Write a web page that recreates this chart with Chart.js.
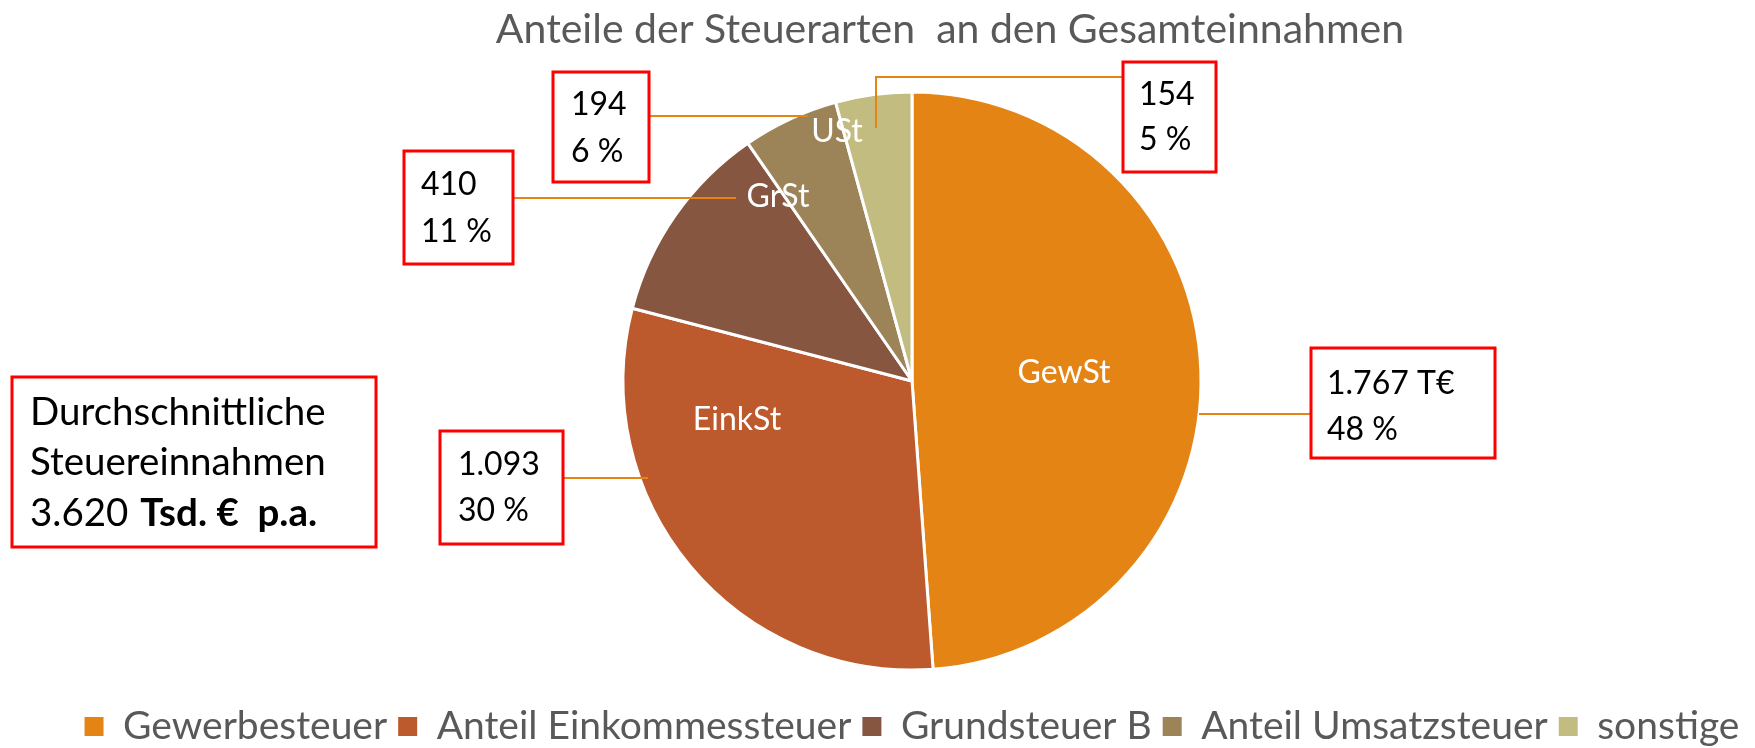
<!DOCTYPE html>
<html lang="de">
<head>
<meta charset="utf-8">
<title>Anteile der Steuerarten an den Gesamteinnahmen</title>
<script src="https://cdn.jsdelivr.net/npm/chart.js@4.4.1/dist/chart.umd.min.js"></script>
<style>
  html, body { margin: 0; padding: 0; background: #fff; }
  #wrap { width: 1755px; height: 748px; position: relative; }
</style>
</head>
<body>
<div id="wrap"><canvas id="chart" width="1755" height="748"></canvas></div>
<script>
// chart data
const categories = ['Gewerbesteuer', 'Anteil Einkommessteuer', 'Grundsteuer B', 'Anteil Umsatzsteuer', 'sonstige'];
const shortNames = ['GewSt', 'EinkSt', 'GrSt', 'USt', ''];
const values = [1767, 1093, 410, 194, 154];
const percentLabels = ['48 %', '30 %', '11 %', '6 %', '5 %'];
const valueUnits = [' T€', '', '', '', ''];
const sliceColors = ['#E48414', '#BC592D', '#865641', '#9C8358', '#C3BC81'];
const titleText = 'Anteile der Steuerarten  an den Gesamteinnahmen';
const summaryLines = ['Durchschnittliche', 'Steuereinnahmen'];
const summaryTotal = '3.620';
const summaryUnit = 'Tsd. €  p.a.';

const FONT = 'Lato, "Open Sans", sans-serif';
const GREY = '#595959';
const RED = '#FF0000';
const LEADER = '#E48414';

// annotation layout, offsets in px from the pie centre
const sliceLabelPos = [[152, 2], [-175, 49], [-134, -174], [-75, -239]];
const callouts = [
  { box: [399, -33, 184, 110], text: [16, 46, 92], leader: [[287, 33], [399, 33]] },
  { box: [-472, 50, 123, 113], text: [18, 44, 90], leader: [[-349, 97], [-264, 97]] },
  { box: [-508, -230, 109, 113], text: [17, 44, 91], leader: [[-399, -183], [-176, -183]] },
  { box: [-359, -309, 96, 110], text: [18, 43, 90], leader: [[-263, -265], [-104, -265]] },
  { box: [211, -319, 93, 110], text: [16, 43, 88], leader: [[211, -304], [-36, -304], [-36, -253]] }
];

function formatDe(n) {
  return String(n).replace(/\B(?=(\d{3})+(?!\d))/g, '.');
}

const annotations = {
  id: 'annotations',
  afterDraw(chart) {
    const ctx = chart.ctx;
    const arc = chart.getDatasetMeta(0).data[0];
    const cx = arc.x, cy = arc.y;
    ctx.save();

    // title
    ctx.fillStyle = GREY;
    ctx.font = '41px ' + FONT;
    ctx.textAlign = 'center';
    ctx.textBaseline = 'alphabetic';
    ctx.fillText(titleText, cx + 38, 43);

    // slice names
    ctx.fillStyle = '#FFFFFF';
    ctx.font = '32px ' + FONT;
    shortNames.forEach((name, i) => {
      if (!name) return;
      const p = sliceLabelPos[i];
      ctx.fillText(name, cx + p[0], cy + p[1]);
    });

    // leader lines
    ctx.strokeStyle = LEADER;
    ctx.lineWidth = 2;
    callouts.forEach(c => {
      ctx.beginPath();
      c.leader.forEach((p, j) => {
        if (j === 0) ctx.moveTo(cx + p[0], cy + p[1]);
        else ctx.lineTo(cx + p[0], cy + p[1]);
      });
      ctx.stroke();
    });

    // value boxes
    ctx.textAlign = 'left';
    ctx.font = '32px ' + FONT;
    callouts.forEach((c, i) => {
      const x = cx + c.box[0], y = cy + c.box[1];
      ctx.fillStyle = '#FFFFFF';
      ctx.fillRect(x, y, c.box[2], c.box[3]);
      ctx.strokeStyle = RED;
      ctx.lineWidth = 3;
      ctx.strokeRect(x, y, c.box[2], c.box[3]);
      ctx.fillStyle = '#000000';
      ctx.fillText(formatDe(values[i]) + valueUnits[i], x + c.text[0], y + c.text[1]);
      ctx.fillText(percentLabels[i], x + c.text[0], y + c.text[2]);
    });

    // summary box
    ctx.fillStyle = '#FFFFFF';
    ctx.fillRect(12, 377, 364, 170);
    ctx.strokeStyle = RED;
    ctx.lineWidth = 3;
    ctx.strokeRect(12, 377, 364, 170);
    ctx.fillStyle = '#000000';
    ctx.font = '38.5px ' + FONT;
    ctx.fillText(summaryLines[0], 30, 425);
    ctx.fillText(summaryLines[1], 30, 475);
    const lead = summaryTotal + ' ';
    ctx.fillText(lead, 30, 526);
    const w = ctx.measureText(lead).width;
    ctx.font = 'bold 38.5px ' + FONT;
    ctx.fillText(summaryUnit, 30 + w + 2, 526);

    ctx.restore();
  }
};

new Chart(document.getElementById('chart'), {
  type: 'pie',
  data: {
    labels: categories,
    datasets: [{
      data: values,
      backgroundColor: sliceColors,
      borderColor: '#FFFFFF',
      borderWidth: 3,
      radius: 289
    }]
  },
  options: {
    responsive: false,
    animation: false,
    layout: { padding: { top: 66, left: 69, right: 0, bottom: -8 } },
    plugins: {
      tooltip: { enabled: false },
      title: { display: false },
      legend: {
        position: 'bottom',
        labels: {
          color: GREY,
          font: { family: FONT, size: 39 },
          boxWidth: 19,
          boxHeight: 19,
          padding: 11,
          generateLabels(chart) {
            const items = Chart.overrides.pie.plugins.legend.labels.generateLabels(chart);
            items.forEach(it => { it.lineWidth = 0; });
            return items;
          }
        }
      }
    }
  },
  plugins: [annotations]
});
</script>
</body>
</html>
